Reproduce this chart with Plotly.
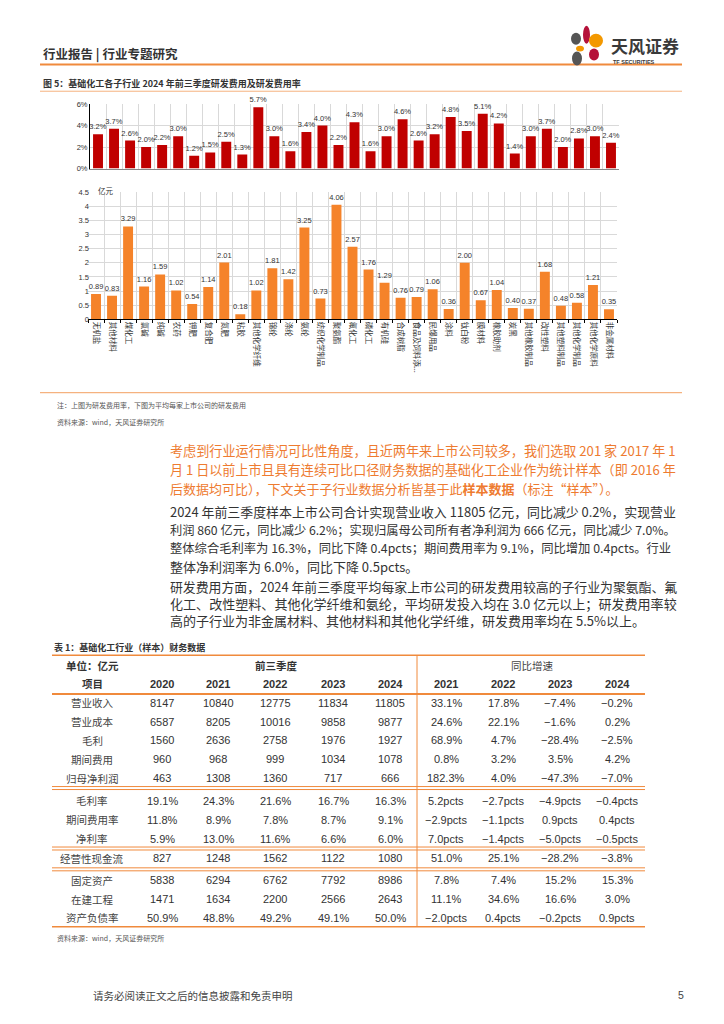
import re
import plotly.graph_objects as go

W, H = 724, 1024


def px(x):
    return x / W


def py(y):
    return 1 - y / H


# ---------------- data ----------------
categories = ["无机盐", "其他材料", "煤化工", "氯碱", "纯碱", "农药", "钾肥", "复合肥", "氮肥", "粘胶",
              "其他化学纤维", "锦纶", "涤纶", "氨纶", "纺织化学制品", "聚氨酯", "氟化工", "磷化工",
              "有机硅", "合成树脂", "食品及饲料添...", "民爆用品", "涂料", "钛白粉", "膜材料", "橡胶助剂",
              "炭黑", "其他橡胶制品", "改性塑料", "其他塑料制品", "其他化学制品", "其他化学原料", "非金属材料"]
rd_rate = [3.2, 3.7, 2.6, 2.0, 2.2, 3.0, 1.2, 1.5, 2.5, 1.3,
           5.7, 3.0, 1.6, 3.4, 4.0, 2.2, 4.3, 1.6,
           3.0, 4.6, 2.6, 3.2, 4.8, 3.5, 5.1, 4.2,
           1.4, 3.0, 3.7, 2.0, 2.8, 3.0, 2.4]
rd_expense = [0.89, 0.83, 3.29, 1.16, 1.59, 1.02, 0.54, 1.14, 2.01, 0.18,
              1.02, 1.81, 1.42, 3.25, 0.73, 4.06, 2.57, 1.76,
              1.29, 0.76, 0.79, 1.06, 0.36, 2.00, 0.67, 1.04,
              0.40, 0.37, 1.68, 0.48, 0.58, 1.21, 0.35]

table_items = ["营业收入", "营业成本", "毛利", "期间费用", "归母净利润",
               "毛利率", "期间费用率", "净利率", "经营性现金流", "固定资产", "在建工程", "资产负债率"]
year_cols = ["2020", "2021", "2022", "2023", "2024"]
yoy_cols = ["2021", "2022", "2023", "2024"]
v2020 = ["8147", "6587", "1560", "960", "463", "19.1%", "11.8%", "5.9%", "827", "5838", "1471", "50.9%"]
v2021 = ["10840", "8205", "2636", "968", "1308", "24.3%", "8.9%", "13.0%", "1248", "6294", "1634", "48.8%"]
v2022 = ["12775", "10016", "2758", "999", "1360", "21.6%", "7.8%", "11.6%", "1562", "6762", "2200", "49.2%"]
v2023 = ["11834", "9858", "1976", "1034", "717", "16.7%", "8.7%", "6.6%", "1122", "7792", "2566", "49.1%"]
v2024 = ["11805", "9877", "1927", "1078", "666", "16.3%", "9.1%", "6.0%", "1080", "8986", "2643", "50.0%"]
g2021 = ["33.1%", "24.6%", "68.9%", "0.8%", "182.3%", "5.2pcts", "−2.9pcts", "7.0pcts", "51.0%", "7.8%", "11.1%", "−2.0pcts"]
g2022 = ["17.8%", "22.1%", "4.7%", "3.2%", "4.0%", "−2.7pcts", "−1.1pcts", "−1.4pcts", "25.1%", "7.4%", "34.6%", "0.4pcts"]
g2023 = ["−7.4%", "−1.6%", "−28.4%", "3.5%", "−47.3%", "−4.9pcts", "0.9pcts", "−5.0pcts", "−28.2%", "15.2%", "16.6%", "−0.2pcts"]
g2024 = ["−0.2%", "0.2%", "−2.5%", "4.2%", "−7.0%", "−0.4pcts", "0.4pcts", "−0.5pcts", "−3.8%", "15.3%", "3.0%", "0.9pcts"]

para1 = ["考虑到行业运行情况可比性角度，且近两年来上市公司较多，我们选取 201 家 2017 年 1",
         "月 1 日以前上市且具有连续可比口径财务数据的基础化工企业作为统计样本（即 2016 年",
         "后数据均可比），下文关于子行业数据分析皆基于此<b>样本数据</b>（标注“样本”）。"]
para2 = ["2024 年前三季度样本上市公司合计实现营业收入 11805 亿元，同比减少 0.2%，实现营业",
         "利润 860 亿元，同比减少 6.2%；实现归属母公司所有者净利润为 666 亿元，同比减少 7.0%。",
         "整体综合毛利率为 16.3%，同比下降 0.4pcts；期间费用率为 9.1%，同比增加 0.4pcts。行业",
         "整体净利润率为 6.0%，同比下降 0.5pcts。"]
para3 = ["研发费用方面，2024 年前三季度平均每家上市公司的研发费用较高的子行业为聚氨酯、氟",
         "化工、改性塑料、其他化学纤维和氨纶，平均研发投入均在 3.0 亿元以上；研发费用率较",
         "高的子行业为非金属材料、其他材料和其他化学纤维，研发费用率均在 5.5%以上。"]

# ---------------- styles ----------------
CJK = "Noto Sans CJK SC"
NUM = "Liberation Sans, Noto Sans CJK SC"
ORANGE = "#F08A3C"
LORANGE = "#F5B27F"
TXT = "#333333"
GRID = "#D9D9D9"

fig = go.Figure()
fig.add_trace(go.Bar(
    x=categories, y=rd_rate, xaxis="x", yaxis="y",
    marker=dict(color="#C00000", line=dict(width=0)), width=0.62,
    texttemplate="%{y:.1f}%", textposition="outside", cliponaxis=False, constraintext="none",
    textfont=dict(size=7.5, color=TXT, family=NUM), showlegend=False, hoverinfo="x+y"))
fig.add_trace(go.Bar(
    x=categories, y=rd_expense, xaxis="x2", yaxis="y2",
    marker=dict(color="#F5832A", line=dict(width=0)), width=0.62,
    texttemplate="%{y:.2f}", textposition="outside", cliponaxis=False, constraintext="none",
    textfont=dict(size=7.5, color=TXT, family=NUM), showlegend=False, hoverinfo="x+y"))

shapes = []
annotations = []


def hline(y, x0, x1, color, width=1):
    shapes.append(dict(type="line", xref="paper", yref="paper", x0=px(x0), x1=px(x1),
                       y0=py(y), y1=py(y), line=dict(color=color, width=width)))


def text(x, y, s, size=11, color=TXT, family=CJK, xanchor="left"):
    annotations.append(dict(x=px(x), y=py(y), xref="paper", yref="paper", text=s, showarrow=False,
                            xanchor=xanchor, yanchor="middle", font=dict(size=size, color=color, family=family)))


def em_width(s):
    s = re.sub(r"<[^>]+>", "", s)
    w = 0.0
    for ch in s:
        o = ord(ch)
        if o >= 0x2E80 or ch in "，；（）“”、：。":
            w += 1.0
        elif ch.isdigit():
            w += 0.56
        elif ch == " ":
            w += 0.25
        elif ch == "%":
            w += 0.88
        elif ch == ".":
            w += 0.28
        else:
            w += 0.54
    return w


def para(lines, y0, step, color):
    for i, s in enumerate(lines):
        full = i < len(lines) - 1
        size = 13.0
        if full:
            size = min(13.2, 508 / em_width(s))
        text(168, y0 + i * step, s, size=size, color=color)


# header
text(41, 50, "<b>行业报告 | 行业专题研究</b>", size=12.5)
hline(61, 40, 682, ORANGE, 2)
# logo
petals = [
    (583, 22, 590, 40, "#B5123A"), (589, 30, 603, 44, "#F39800"), (571, 29, 581, 41, "#555555"),
    (576, 42, 584, 48, "#F39800"), (589, 45, 599, 57, "#B5123A"), (572, 48, 582, 62, "#555555"),
]
for x0, y0, x1, y1, c in petals:
    shapes.append(dict(type="circle", xref="paper", yref="paper", x0=px(x0), x1=px(x1),
                       y0=py(y1), y1=py(y0), fillcolor=c, line=dict(width=0)))
text(609, 42, "<b>天风证券</b>", size=17, color="#3a3a3a")
text(611, 58.5, "<b>TF SECURITIES</b>", size=5.5, color="#3a3a3a", family="Liberation Sans")

# figure title
text(41, 80, "<b>图 5：基础化工各子行业 2024 年前三季度研发费用及研发费用率</b>", size=9)
hline(88, 40, 682, LORANGE, 1)
text(96, 188, "亿元", size=7.5)

# notes
hline(392, 40, 682, LORANGE, 1.2)
text(55, 405, "注：上图为研发费用率，下图为平均每家上市公司的研发费用", size=7, color="#555555")
text(55, 422, "资料来源：wind，天风证券研究所", size=7, color="#555555")

# paragraphs
para(para1, 450, 19.5, "#EE7B30")
para(para2, 512, 18.5, TXT)
para(para3, 588, 17.0, TXT)

# table
text(52, 649, "<b>表 1：基础化工行业（样本）财务数据</b>", size=9)
hline(657, 52, 645, ORANGE, 1.5)
ycx = [162, 218, 275, 333, 390]
gcx = [446, 503, 560, 617]
text(92, 667, "<b>单位：亿元</b>", size=10.5, xanchor="center")
text(276, 667, "<b>前三季度</b>", size=10.5, xanchor="center")
text(532, 667, "同比增速", size=10.5, xanchor="center", color="#444")
text(92, 686, "<b>项目</b>", size=10.5, xanchor="center")
for x, s in zip(ycx, year_cols):
    text(x, 686, "<b>" + s + "</b>", size=11, xanchor="center", family=NUM)
for x, s in zip(gcx, yoy_cols):
    text(x, 686, "<b>" + s + "</b>", size=11, xanchor="center", family=NUM)
hline(696, 52, 645, ORANGE, 2)
row_y = [705, 724, 743, 762, 781, 804, 823, 842, 862, 884, 903, 922]
cols = [v2020, v2021, v2022, v2023, v2024]
gcols = [g2021, g2022, g2023, g2024]
for r, item in enumerate(table_items):
    yy = row_y[r]
    text(92, yy, item, size=10.5, xanchor="center", color="#444")
    for x, col in zip(ycx, cols):
        text(x, yy, col[r], size=11, xanchor="center", family=NUM)
    for x, col in zip(gcx, gcols):
        text(x, yy, col[r], size=11, xanchor="center", family=NUM)
for yd in (791, 852, 873):
    hline(yd - 1.5, 52, 645, ORANGE, 1)
    hline(yd + 1.5, 52, 645, ORANGE, 1)
hline(931, 52, 645, ORANGE, 1.5)
shapes.append(dict(type="line", xref="paper", yref="paper", x0=px(417), x1=px(417),
                   y0=py(931), y1=py(657), line=dict(color=ORANGE, width=1)))
text(55, 942, "资料来源：wind，天风证券研究所", size=7, color="#555555")

# footer
text(91, 1000, "请务必阅读正文之后的信息披露和免责申明", size=10.5, color="#444")
text(676, 1000, "5", size=10.5, color="#444", family="Liberation Sans")

fig.update_layout(
    width=W, height=H, margin=dict(l=0, r=0, t=0, b=0),
    paper_bgcolor="white", plot_bgcolor="white", bargap=0.4,
    shapes=shapes, annotations=annotations,
    xaxis=dict(domain=[px(90), px(619)], anchor="y", showticklabels=False, tickson="boundaries",
               showgrid=True, gridcolor=GRID, gridwidth=1, ticks="", showline=True, linecolor="#888",
               linewidth=1, mirror=False, fixedrange=True),
    yaxis=dict(domain=[py(166), py(101)], range=[0, 6], dtick=2, ticksuffix="%", showline=True,
               linecolor="black", linewidth=1, gridcolor=GRID, zeroline=False,
               tickfont=dict(size=7.5, color=TXT, family=NUM), ticks="", fixedrange=True),
    xaxis2=dict(domain=[px(88), px(617)], anchor="y2", tickangle=90, tickson="boundaries",
                tickfont=dict(size=7.5, color=TXT, family=CJK), showgrid=True, gridcolor=GRID,
                showline=True, linecolor="black", linewidth=1, ticks="outside", ticklen=3,
                tickcolor="black", fixedrange=True),
    yaxis2=dict(domain=[py(318), py(190)], range=[0, 4.5], dtick=0.5, showline=False,
                gridcolor=GRID, zeroline=False, tickfont=dict(size=7.5, color=TXT, family=NUM),
                ticks="", fixedrange=True),
)

fig.write_html("out.html", config={"displayModeBar": False},
               post_script="document.body.style.margin='0px';")
